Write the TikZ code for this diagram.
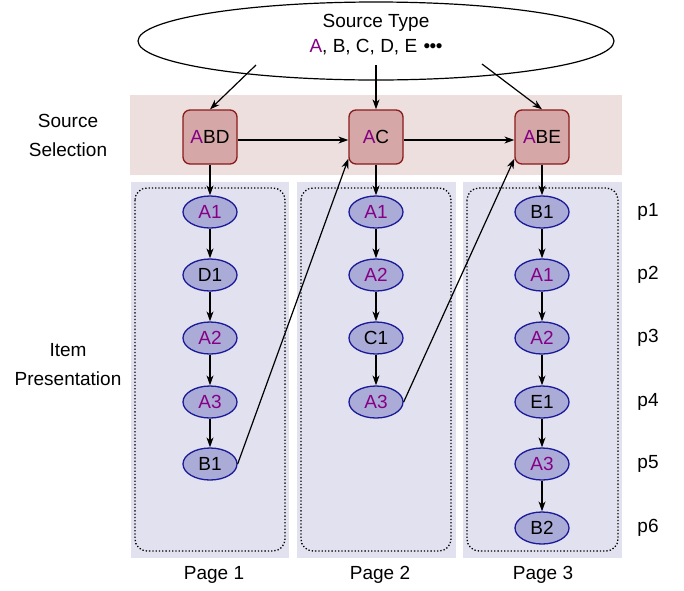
\documentclass[tikz,border=0pt]{standalone}
\usepackage{fontspec}
\setmainfont{Liberation Sans}
\usetikzlibrary{shapes.geometric,arrows.meta}
\definecolor{bandpink}{HTML}{EEDFDF}
\definecolor{boxfill}{HTML}{D5A7A7}
\definecolor{boxline}{HTML}{8B1A1A}
\definecolor{panelblue}{HTML}{E1E1EF}
\definecolor{itemfill}{HTML}{ABABD8}
\definecolor{itemline}{HTML}{1A1A99}
\definecolor{srcA}{HTML}{850085}
\newcommand{\pa}{\textcolor{srcA}{A}}
\tikzset{
  txt/.style={font=\fontsize{19}{29}\selectfont},
  srcbox/.style={txt,draw=boxline,fill=boxfill,line width=1.3pt,rounded corners=7pt,minimum width=54pt,minimum height=54pt,inner sep=0pt},
  item/.style={txt,ellipse,draw=itemline,fill=itemfill,line width=1.3pt,minimum width=54pt,minimum height=32pt,inner sep=0pt},
  arr/.style={-{Stealth[length=10pt,width=7pt]},line width=1.2pt},
  dots/.style={dotted,line width=1.3pt,rounded corners=12pt},
}
\begin{document}
\begin{tikzpicture}[x=1pt,y=-1pt]
\useasboundingbox (0,0) rectangle (684,590);
% backgrounds
\fill[bandpink] (130,95) rectangle (622,175);
\fill[panelblue] (131,182) rectangle (289,558);
\fill[panelblue] (297,182) rectangle (456,558);
\fill[panelblue] (463,182) rectangle (622,558);
\draw[dots] (135,188) rectangle (285,551);
\draw[dots] (301,188) rectangle (451,551);
\draw[dots] (467,188) rectangle (618,551);
% source ellipse
\node[ellipse,draw,line width=1.2pt,minimum width=476pt,minimum height=78pt,inner sep=0pt] (src) at (376,41) {};
\node[txt,align=center,font=\fontsize{19}{25}\selectfont] (srctxt) at (376,35) {Source Type\\\pa, B, C, D, E \kern1pt\textbullet\kern-0.5pt\textbullet\kern-0.5pt\textbullet};
\coordinate (s1) at (256,65);
\coordinate (s2) at (376,65);
\coordinate (s3) at (482,64);
% source boxes
\node[srcbox] (b1) at (210,137) {\pa BD};
\node[srcbox] (b2) at (376,137) {\pa C};
\node[srcbox] (b3) at (542,137) {\pa BE};
\draw[arr] (s1) -- (b1.north);
\draw[arr] (s2) -- (b2.north);
\draw[arr] (s3) -- (b3.north);
\draw[arr] (b1.east |- 0,140) -- (b2.west |- 0,140);
\draw[arr] (b2.east |- 0,140) -- (b3.west |- 0,140);
% page 1
\node[item] (p1a) at (210,212) {\textcolor{srcA}{A1}};
\node[item] (p1b) at (210,275) {D1};
\node[item] (p1c) at (210,338) {\textcolor{srcA}{A2}};
\node[item] (p1d) at (210,402) {\textcolor{srcA}{A3}};
\node[item] (p1e) at (210,464) {B1};
% page 2
\node[item] (p2a) at (376,212) {\textcolor{srcA}{A1}};
\node[item] (p2b) at (376,275) {\textcolor{srcA}{A2}};
\node[item] (p2c) at (376,338) {C1};
\node[item] (p2d) at (376,402) {\textcolor{srcA}{A3}};
% page 3
\node[item] (p3a) at (542,212) {B1};
\node[item] (p3b) at (542,275) {\textcolor{srcA}{A1}};
\node[item] (p3c) at (542,338) {\textcolor{srcA}{A2}};
\node[item] (p3d) at (542,402) {E1};
\node[item] (p3e) at (542,464) {\textcolor{srcA}{A3}};
\node[item] (p3f) at (542,528) {B2};
% vertical arrows
\draw[arr] (b1) -- (p1a);
\draw[arr] (p1a) -- (p1b);
\draw[arr] (p1b) -- (p1c);
\draw[arr] (p1c) -- (p1d);
\draw[arr] (p1d) -- (p1e);
\draw[arr] (b2) -- (p2a);
\draw[arr] (p2a) -- (p2b);
\draw[arr] (p2b) -- (p2c);
\draw[arr] (p2c) -- (p2d);
\draw[arr] (b3) -- (p3a);
\draw[arr] (p3a) -- (p3b);
\draw[arr] (p3b) -- (p3c);
\draw[arr] (p3c) -- (p3d);
\draw[arr] (p3d) -- (p3e);
\draw[arr] (p3e) -- (p3f);
% cross-page arrows
\draw[arr] (p1e.east) -- ([yshift=6pt]b2.south west);
\draw[arr] (p2d.east) -- ([yshift=6pt]b3.south west);
% labels
\node[txt,align=center] (lsel) at (68,135) {Source\\Selection};
\node[txt,align=center] (lpres) at (68,365) {Item\\Presentation};
\node[txt] (r1) at (648,212) {p1};
\node[txt] (r2) at (648,275) {p2};
\node[txt] (r3) at (648,338) {p3};
\node[txt] (r4) at (648,402) {p4};
\node[txt] (r5) at (648,464) {p5};
\node[txt] (r6) at (648,528) {p6};
\node[txt] (pg1) at (214,575) {Page 1};
\node[txt] (pg2) at (380,575) {Page 2};
\node[txt] (pg3) at (543,575) {Page 3};
\end{tikzpicture}
\end{document}
